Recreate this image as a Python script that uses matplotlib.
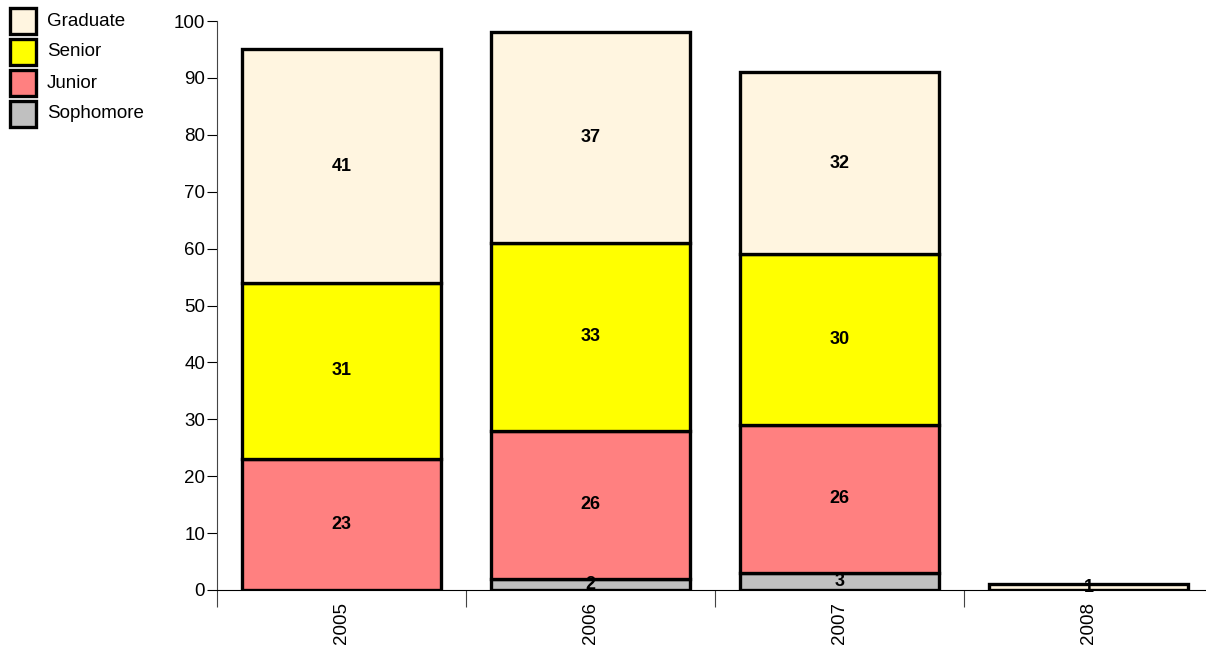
import matplotlib.pyplot as plt
from matplotlib.patches import Rectangle

plt.rcParams['font.family'] = ['Liberation Sans', 'DejaVu Sans']

# Class counts per year, stacked bottom to top
years = ['2005', '2006', '2007', '2008']
sophomore = [0, 2, 3, 0]
junior = [23, 26, 26, 0]
senior = [31, 33, 30, 0]
graduate = [41, 37, 32, 1]

series = [('Sophomore', sophomore, '#c0c0c0'),
          ('Junior', junior, '#ff8080'),
          ('Senior', senior, '#ffff00'),
          ('Graduate', graduate, '#fff5e0')]

W, H = 1206, 648
fig = plt.figure(figsize=(W / 100, H / 100), dpi=100)
ax = fig.add_axes([217 / W, 58 / H, 1 - 217 / W, 569 / H])

x = list(range(len(years)))
bottoms = [0] * len(years)
for name, vals, color in series:
    for i, v in enumerate(vals):
        if v == 0:
            continue
        ax.bar(i, v, width=0.8, bottom=bottoms[i], color=color,
               edgecolor='black', linewidth=2.4, zorder=3)
        ax.text(i, bottoms[i] + v / 2, str(v), ha='center', va='center',
                fontsize=13, fontweight='bold', zorder=4)
        bottoms[i] += v

ax.set_xlim(-0.5, 989 / 249 - 0.5)
ax.set_ylim(0, 100)
ax.set_yticks(range(0, 101, 10))
ax.tick_params(axis='y', length=7, width=0.8, labelsize=13.5, pad=1.5)

ax.set_xticks(x)
ax.set_xticklabels(years, rotation=90)
ax.set_xticks([-0.5, 0.5, 1.5, 2.5], minor=True)
ax.tick_params(axis='x', which='major', length=0, labelsize=13.5, pad=9)
ax.tick_params(axis='x', which='minor', length=12, width=0.8, color='#444444')

for s in ['top', 'right']:
    ax.spines[s].set_visible(False)
ax.spines['left'].set_linewidth(0.8)
ax.spines['left'].set_color('#444444')
ax.spines['bottom'].set_linewidth(0.8)
ax.spines['bottom'].set_zorder(5)

# Legend: swatch boxes with labels, top-down in reverse stacking order
box, step = 26, 31
for k, (name, _, color) in enumerate(reversed(series)):
    top = 8 + k * step
    fig.add_artist(Rectangle((10 / W, (H - top - box) / H), box / W, box / H,
                             facecolor=color, edgecolor='black', linewidth=2.4,
                             transform=fig.transFigure))
    fig.text(47 / W, (H - top - box / 2) / H, name, fontsize=13.5,
             ha='left', va='center')

fig.savefig('out.png', dpi=100)
